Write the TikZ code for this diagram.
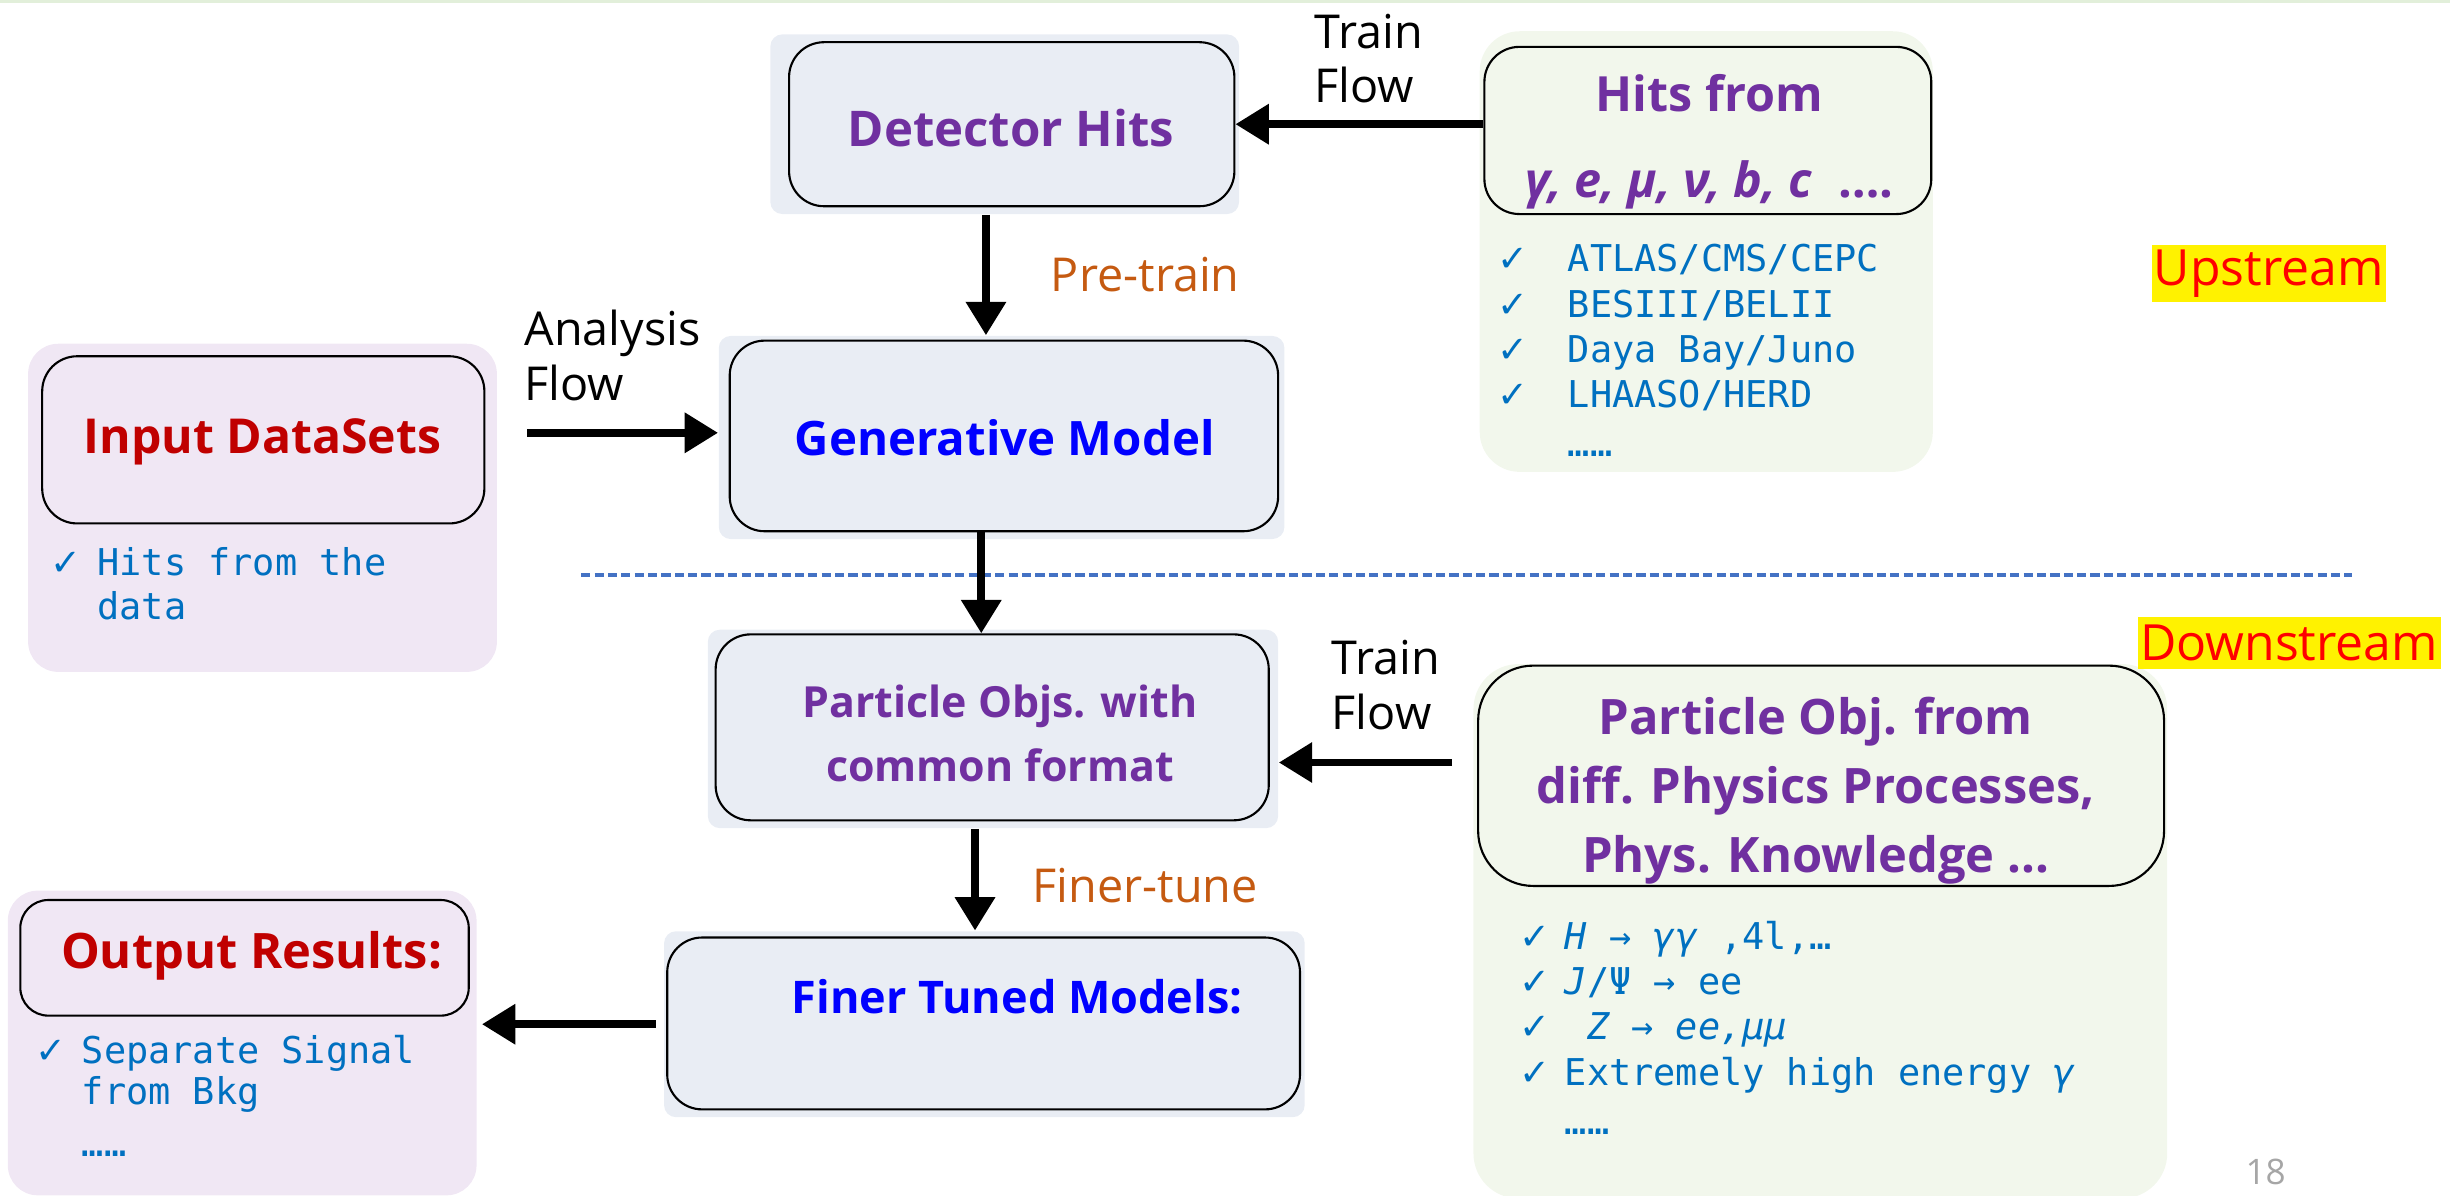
\documentclass[tikz,border=0pt]{standalone}
\usepackage{fontspec}
\setmainfont{Open Sans}
\newfontfamily\listfont{DejaVu Sans Mono}
\newfontfamily\tickfont{DejaVu Sans}
\usetikzlibrary{arrows.meta}

\definecolor{boxblue}{HTML}{E9EDF4}
\definecolor{boxlav}{HTML}{F0E7F4}
\definecolor{boxgreen}{HTML}{F2F7EC}
\definecolor{headpurple}{HTML}{7030A0}
\definecolor{headblue}{HTML}{0000FF}
\definecolor{headred}{HTML}{C00000}
\definecolor{labelorange}{HTML}{C55A11}
\definecolor{listblue}{HTML}{0070C0}
\definecolor{splitblue}{HTML}{4472C4}
\definecolor{topgreen}{HTML}{E2EFDA}

\newcommand{\chk}[1]{\makebox[#1][l]{\tickfont ✓}}
\newcommand{\ind}[1]{\hspace*{#1}}

\begin{document}
\begin{tikzpicture}[x=0.015625cm, y=-0.015625cm]
% --- Global Styles ---
\tikzstyle{bgbox} = [fill=boxblue, rounded corners=0.12cm, inner sep=0pt]
\tikzstyle{outerbox} = [rounded corners=0.3cm, inner sep=0pt]
\tikzstyle{mainbox} = [draw, line width=0.6pt, rounded corners=0.35cm, inner sep=0pt]
\tikzstyle{head} = [font=\bfseries, align=center, inner sep=0pt]
\tikzstyle{flowtext} = [font=\fontsize{13.3}{15.6}\selectfont, align=left, inner sep=0pt]
\tikzstyle{steptext} = [font=\fontsize{13.3}{16}\selectfont, text=labelorange, inner sep=0pt]
\tikzstyle{item} = [font=\listfont\fontsize{10.5}{12.9}\selectfont, text=listblue, align=left, anchor=north west, inner sep=0pt]
\tikzstyle{flow} = [-{Triangle[length=9.5pt,width=11pt]}, line width=2.2pt]
\tikzstyle{tag} = [fill=yellow, text=red, font=\fontsize{14.2}{16}\selectfont, inner sep=0pt]

% --- Unit for box sizes (one reference pixel) ---
\def\px{0.015625cm}

% --- Arrow columns and rows ---
\coordinate (colpre) at (631,0);
\coordinate (colgen) at (628,0);
\coordinate (colfine) at (624,0);
\coordinate (rowana) at (0,277);
\coordinate (rowtrain) at (0,488);

\useasboundingbox (0,0) rectangle (1568,765);
\fill[topgreen] (0,0) rectangle (1568,2);

% ==========================================
% UPSTREAM: Detector Hits and Generative Model
% ==========================================
\node[bgbox, minimum width=300*\px, minimum height=115*\px] (dethitsbg) at (643,79.5) {};
\node[mainbox, fill=boxblue, minimum width=285*\px, minimum height=105*\px] (dethits) at (647.5,79.5) {};
\node[head, text=headpurple, font=\bfseries\fontsize{14}{17}\selectfont] (dethitstxt) at (647,82) {Detector Hits};

\node[bgbox, minimum width=362*\px, minimum height=130*\px] (genbg) at (641,280) {};
\node[mainbox, fill=boxblue, minimum width=351*\px, minimum height=122*\px] (gen) at (642.5,279) {};
\node[head, text=headblue, font=\bfseries\fontsize{13.5}{17}\selectfont] (gentxt) at (643,280) {Generative Model};

% Hits from the experiments
\node[outerbox, fill=boxgreen, rounded corners=0.4cm, minimum width=290*\px, minimum height=282*\px] (hitsbg) at (1092,161) {};
\node[mainbox, fill=boxgreen, minimum width=286*\px, minimum height=107*\px] (hits) at (1093,83.5) {};
\node[head, text=headpurple, font=\bfseries\fontsize{13.8}{24.4}\selectfont] (hitstxt) at (1094,90.5)
  {Hits from\\\textit{γ, e, μ, ν, b, c}\ \ ….};
\node[item] (hitslist) at (958,156)
  {\chk{20pt}ATLAS/CMS/CEPC\\\chk{20pt}BESIII/BELII\\\chk{20pt}Daya Bay/Juno\\\chk{20pt}LHAASO/HERD\\[1pt]\ind{20pt}……};

% Input data sets
\node[outerbox, fill=boxlav, minimum width=300*\px, minimum height=210*\px] (inputbg) at (168,325) {};
\node[mainbox, fill=boxlav, minimum width=283*\px, minimum height=107*\px] (input) at (168.5,281.5) {};
\node[head, text=headred, font=\bfseries\fontsize{13.7}{17}\selectfont] (inputtxt) at (168,283) {Input DataSets};
\node[item, font=\listfont\fontsize{10.5}{12.4}\selectfont] (inputlist) at (32,350)
  {\chk{13.3pt}Hits from the\\\ind{13.3pt}data};

% Flows into the generative model
\draw[flow] (hits.west |- dethits.east) -- (dethits.east);
\node[flowtext] (trainup) at (876,37.5) {Train\\Flow};
\draw[flow] (dethitsbg.south -| colpre) -- (genbg.north -| colpre);
\node[steptext] (pretrain) at (733,176) {Pre-train};
\draw[flow] ([xshift=19*\px]inputbg.east |- rowana) -- (genbg.west |- rowana);
\node[flowtext] (anaflow) at (392,227.5) {Analysis\\Flow};

\node[tag, minimum width=150*\px, minimum height=36*\px] (upstream) at (1452,175) {Upstream};

% Upstream / downstream split
\draw[splitblue, dash pattern=on 2.6pt off 1.2pt, line width=1pt] (372,368) -- (1505,368);

% ==========================================
% DOWNSTREAM: Particle Objects and Finer Tuned Models
% ==========================================
\node[bgbox, minimum width=365*\px, minimum height=127*\px] (partbg) at (635.5,466.5) {};
\node[mainbox, fill=boxblue, minimum width=354*\px, minimum height=119*\px] (part) at (635,465.5) {};
\node[head, text=headpurple, font=\bfseries\fontsize{12.2}{18.2}\selectfont] (parttxt) at (640,469.5) {Particle Objs. with\\common format};

\node[bgbox, minimum width=410*\px, minimum height=119*\px] (finerbg) at (630,655.5) {};
\node[mainbox, fill=boxblue, minimum width=405*\px, minimum height=110*\px] (finer) at (629.5,655) {};
\node[head, text=headblue, font=\bfseries\fontsize{12.8}{17}\selectfont] (finertxt) at (651,638) {Finer Tuned Models:};

% Particle objects from physics processes
\node[outerbox, fill=boxgreen, rounded corners=0.45cm, minimum width=444*\px, minimum height=342*\px] (physbg) at (1165,596) {};
\node[mainbox, fill=boxgreen, rounded corners=0.55cm, minimum width=439*\px, minimum height=141*\px] (phys) at (1165.5,496.5) {};
\node[head, text=headpurple, font=\bfseries\fontsize{13.9}{19.6}\selectfont] (physstxt) at (1162,506)
  {Particle Obj. from\\diff. Physics Processes,\\Phys. Knowledge ...};
\node[item] (physlist) at (972,589)
  {\chk{12.9pt}\textit{H} → \textit{γγ} ,4l,…\\
   \chk{12.9pt}\textit{J}/Ψ → ee\\
   \chk{12.9pt}\ \textit{Z → ee,μμ}\\
   \chk{12.9pt}Extremely high energy \textit{γ}\\[1pt]
   \ind{12.9pt}……};

% Output results
\node[outerbox, fill=boxlav, minimum width=300*\px, minimum height=195*\px] (outbg) at (155,667.5) {};
\node[mainbox, fill=boxlav, rounded corners=0.28cm, minimum width=287*\px, minimum height=74*\px] (out) at (156.5,613) {};
\node[head, text=headred, font=\bfseries\fontsize{13.9}{17}\selectfont] (outtxt) at (161,612) {Output Results:};
\node[item, font=\listfont\fontsize{10.5}{11.7}\selectfont] (outlist) at (22,662)
  {\chk{13.3pt}Separate Signal\\\ind{13.3pt}from Bkg\\[3pt]\ind{13.3pt}……};

% Flows through the downstream chain
\draw[flow] (gen.south -| colgen) -- (part.north -| colgen);
\draw[flow] ([xshift=-16*\px]phys.west |- rowtrain) -- (partbg.east |- rowtrain);
\node[flowtext] (traindown) at (887,438.5) {Train\\Flow};
\draw[flow] (partbg.south -| colfine) -- (finerbg.north -| colfine);
\node[steptext] (finetune) at (733,567) {Finer-tune};
\draw[flow] ([xshift=-5*\px]finerbg.west) -- ([xshift=3*\px]outbg.east |- finerbg.west);

\node[tag, minimum width=194*\px, minimum height=33*\px] (downstream) at (1465,411.5) {Downstream};

% Page number
\node[text=gray!70, font=\fontsize{10}{12}\selectfont, inner sep=0pt] (pagenum) at (1450,750) {18};

\end{tikzpicture}
\end{document}
